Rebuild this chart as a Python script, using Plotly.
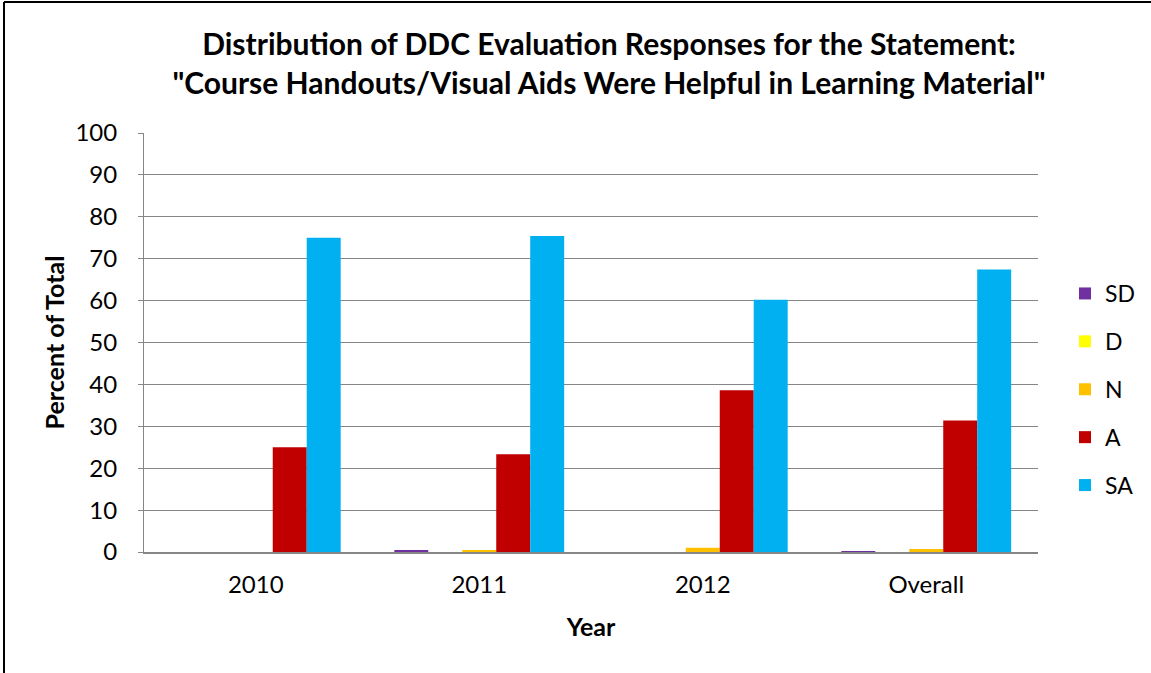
import plotly.graph_objects as go

years = ["2010", "2011", "2012", "Overall"]
sd = [0.0, 0.5, 0.0, 0.2]
d = [0.0, 0.0, 0.0, 0.0]
n = [0.0, 0.5, 1.0, 0.7]
a = [25.0, 23.3, 38.6, 31.4]
sa = [75.0, 75.4, 60.2, 67.4]
series_names = ["SD", "D", "N", "A", "SA"]
colors = ["#7030A0", "#FFFF00", "#FFC000", "#C00000", "#00B0F0"]

FONT = "Lato"
fig = go.Figure()
for name, vals, col in zip(series_names, [sd, d, n, a, sa], colors):
    fig.add_trace(go.Bar(x=years, y=vals, name=name, marker=dict(color=col, line=dict(width=0)),
                         legendgroup=name))

W, H = 1151, 673
L, R, T, B = 144, 113, 133, 121
pw, ph = W - L - R, H - T - B

fig.update_layout(
    width=W, height=H,
    margin=dict(l=L, r=R, t=T, b=B, autoexpand=False),
    paper_bgcolor="white", plot_bgcolor="white",
    barmode="group", bargap=0.24, bargroupgap=0,
    font=dict(family=FONT, size=24, color="black"),
    title=dict(text="Distribution of DDC Evaluation Responses for the Statement:<br>\"Course Handouts/Visual Aids Were Helpful in Learning Material\"",
               x=609 / W, xanchor="center", y=1 - 55 / H, yanchor="middle",
               font=dict(family=FONT, size=30, color="black", weight="bold")),
    legend=dict(xref="container", yref="container", x=1065 / W, xanchor="left", y=1 - 272 / H, yanchor="top",
                font=dict(family=FONT, size=23), tracegroupgap=15, traceorder="grouped",
                bgcolor="rgba(0,0,0,0)", itemwidth=30),
    showlegend=True,
)
fig.update_xaxes(showline=True, linecolor="#868686", linewidth=2, ticks="", ticklabelstandoff=10,
                 title=dict(text="Year", font=dict(family=FONT, size=25, weight="bold"), standoff=22),
                 tickfont=dict(size=24))
fig.update_yaxes(range=[0, 100], dtick=10, showgrid=True, gridcolor="#868686", gridwidth=1,
                 showline=True, linecolor="#868686", linewidth=1, ticks="outside", ticklen=5,
                 tickcolor="#868686", tickfont=dict(size=24), ticklabelstandoff=16,
                 title=dict(text="Percent of Total", font=dict(family=FONT, size=25, weight="bold"), standoff=3),
                 zeroline=False)

# outer chart border (left and top visible in frame)
fig.add_shape(type="line", xref="paper", yref="paper",
              x0=(4 - L) / pw, x1=(4 - L) / pw, y0=(H - B - 2) / ph, y1=(H - B - 700) / ph,
              line=dict(color="black", width=2))
fig.add_shape(type="line", xref="paper", yref="paper",
              x0=(4 - L) / pw, x1=(1200 - L) / pw, y0=(H - B - 2) / ph, y1=(H - B - 2) / ph,
              line=dict(color="black", width=2))

fig.write_html("out.html", config={"displayModeBar": False},
               post_script="document.body.style.margin='0';document.body.style.padding='0';document.body.style.overflow='hidden';")
